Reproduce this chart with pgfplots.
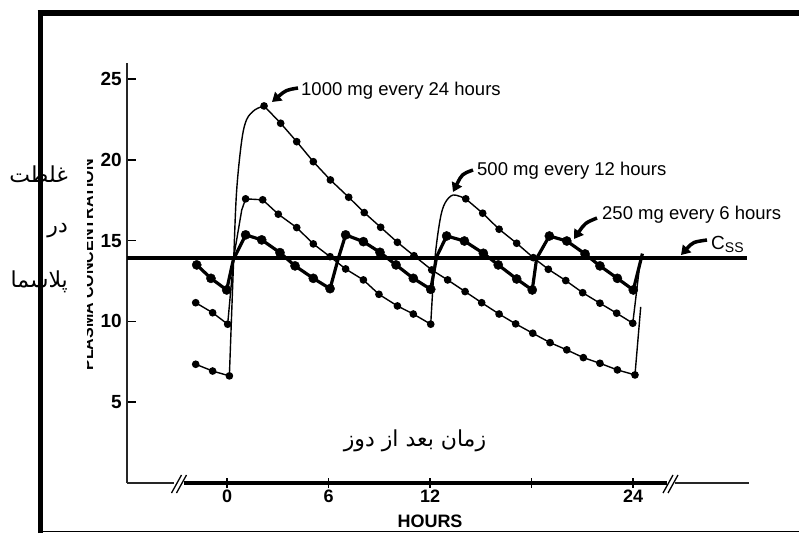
\documentclass[border=0pt]{standalone}
\usepackage{fontspec}
\setmainfont{Liberation Sans}
\newfontfamily\arabicfont[Script=Arabic]{DejaVu Sans}
\TeXXeTstate=1
\usepackage{pgfplots}
\pgfplotsset{compat=1.18}
\usetikzlibrary{arrows.meta}
\begin{document}
\begin{tikzpicture}
\begin{axis}[
  scale only axis, width=622pt, height=420pt,
  xmin=-5.91, xmax=30.85, ymin=0, ymax=26,
  axis x line=none, axis y line*=left,
  y axis line style={line width=1.3pt, black!85},
  ytick={5,10,15,20,25},
  tick align=inside, major tick length=9pt,
  tick style={line width=1.5pt, black},
  /pgf/number format/assume math mode=true,
  yticklabel style={font=\bfseries\fontsize{19}{19}\selectfont, inner sep=0pt, xshift=-5pt},
  clip=false,
  l1/.style={black, line width=1.4pt, mark=none},
  m1/.style={black, line width=1.4pt, mark=*, mark size=3.1pt, mark options={solid, fill=black}},
  l2/.style={black, line width=3.2pt, mark=none, line join=round},
  m2/.style={black, only marks, mark=*, mark size=4.6pt, mark options={solid, fill=black}},
]
\coordinate (BL) at (axis cs:-13.416,-3.096);
% steady state concentration
\addplot[black, line width=4pt] coordinates {(-5.91,13.93) (30.73,13.93)};
% 1000 mg every 24 hours
\addplot[m1] coordinates {(-1.85,7.35) (-0.85,6.93) (0.14,6.63)};
\addplot[l1, smooth, tension=0.55] coordinates {(0.14,6.63) (0.40,14.0) (0.57,18.1) (0.87,21.2) (1.16,22.5) (1.65,23.1) (2.19,23.34)};
\addplot[m1] coordinates {(2.19,23.34) (3.17,22.27) (4.12,21.13) (5.10,19.89) (6.11,18.76) (7.19,17.69) (8.11,16.74) (9.08,15.83) (10.07,14.90) (11.05,14.07) (12.10,13.19) (13.04,12.57) (14.07,11.85) (15.05,11.16) (16.08,10.46) (17.06,9.85) (18.07,9.27) (19.09,8.69) (20.08,8.24) (21.06,7.76) (22.04,7.41) (23.07,7.00) (24.11,6.69)};
\addplot[l1] coordinates {(24.11,6.69) (24.45,10.9)};
% 500 mg every 12 hours
\addplot[m1] coordinates {(-1.85,11.16) (-0.85,10.54) (0.04,9.83)};
\addplot[l1] coordinates {(0.04,9.83) (0.40,14.0) (0.87,16.9) (1.10,17.59)};
\addplot[m1] coordinates {(1.10,17.59) (2.11,17.53) (3.03,16.64) (4.12,15.81) (5.10,14.80) (6.09,14.01) (7.01,13.25) (8.06,12.57) (8.98,11.68) (10.07,10.96) (11.01,10.46) (12.04,9.83)};
\addplot[l1, smooth, tension=0.55] coordinates {(12.04,9.83) (12.28,13.8) (12.59,16.28) (12.88,17.32) (13.37,17.83) (14.11,17.59)};
\addplot[m1] coordinates {(14.11,17.59) (15.11,16.70) (16.08,15.71) (17.12,14.84) (18.10,13.95) (18.99,13.23) (20.02,12.53) (21.02,11.78) (22.04,11.13) (23.03,10.51) (23.98,9.89)};
\addplot[l1] coordinates {(23.98,9.89) (24.45,14.0)};
% 250 mg every 6 hours
\addplot[l2] coordinates {(-1.79,13.50) (-0.95,12.67) (-0.02,11.95) (0.37,13.81) (1.10,15.36) (2.05,15.05) (3.13,14.26) (4.02,13.44) (5.10,12.67) (6.09,12.03) (6.58,13.91) (7.01,15.36) (8.06,14.94) (9.04,14.28) (9.99,13.50) (11.01,12.67) (12.04,11.99) (12.39,14.01) (12.98,15.29) (14.03,14.98) (15.15,14.22) (16.03,13.50) (17.12,12.63) (18.04,11.95) (18.30,13.91) (19.05,15.29) (20.08,14.98) (21.16,14.18) (22.04,13.44) (23.07,12.67) (24.01,11.95) (24.55,14.2)};
\addplot[m2] coordinates {(-1.79,13.50) (-0.95,12.67) (-0.02,11.95) (1.10,15.36) (2.05,15.05) (3.13,14.26) (4.02,13.44) (5.10,12.67) (6.09,12.03) (7.01,15.36) (8.06,14.94) (9.04,14.28) (9.99,13.50) (11.01,12.67) (12.04,11.99) (12.98,15.29) (14.03,14.98) (15.15,14.22) (16.03,13.50) (17.12,12.63) (18.04,11.95) (19.05,15.29) (20.08,14.98) (21.16,14.18) (22.04,13.44) (23.07,12.67) (24.01,11.95)};
% x axis with breaks
\draw[line width=1.3pt, black!85] (axis cs:-5.91,0) -- (axis cs:-3.13,0);
\draw[line width=3.2pt] (axis cs:-2.55,0) -- (axis cs:26.03,0);
\draw[line width=1.3pt, black!85] (axis cs:26.5,0) -- (axis cs:30.85,0);
\pgfplotsinvokeforeach{0,6,12,18,24}{
  \draw[line width=1.8pt] ([yshift=-5pt]axis cs:#1,0) -- ([yshift=5pt]axis cs:#1,0);
}
\pgfplotsinvokeforeach{0,6,12,24}{
  \node[font=\bfseries\fontsize{18}{18}\selectfont, anchor=base] at ([yshift=-20pt]axis cs:#1,0) {#1};
}
\end{axis}
\begin{scope}[shift={(BL)}, x=1pt, y=1pt]
% break marks
\draw[line width=1.3pt] (171.5,40) -- (181.5,58);
\draw[line width=1.3pt] (176.5,40) -- (186.5,58);
\draw[line width=1.3pt] (663,40) -- (673,58);
\draw[line width=1.3pt] (668,40) -- (678,58);
% axis titles
\node[font=\bfseries\fontsize{18}{18}\selectfont, anchor=base] at (430,6) {HOURS};
\node[font=\bfseries\fontsize{16}{16}\selectfont, rotate=90, anchor=base] at (93,268) {PLASMA CONCENTRATION};
\fill[white] (60,140) rectangle (86.5,400);
% annotations
\node[font=\fontsize{18.5}{18.5}\selectfont, anchor=base west, inner sep=0pt] at (301,437) {1000 mg every 24 hours};
\node[font=\fontsize{18.5}{18.5}\selectfont, anchor=base west, inner sep=0pt] at (477,357) {500 mg every 12 hours};
\node[font=\fontsize{18.5}{18.5}\selectfont, anchor=base west, inner sep=0pt] at (602,313) {250 mg every 6 hours};
\node[font=\fontsize{19}{19}\selectfont, anchor=base west, inner sep=0pt] at (711,283) {C\raisebox{-3pt}{\fontsize{14}{14}\selectfont SS}};
\draw[line width=3.5pt, -{Triangle[length=9pt,width=11pt]}] (298,445) .. controls (286,443) .. (272,431);
\draw[line width=3.5pt, -{Triangle[length=9pt,width=11pt]}] (473,363) .. controls (462,359) .. (453,341);
\draw[line width=3.5pt, -{Triangle[length=9pt,width=11pt]}] (597,315) .. controls (585,310) .. (574,294);
\draw[line width=3.5pt, -{Triangle[length=9pt,width=11pt]}] (707,293) .. controls (693,291) .. (681,278);
% frame of the page
\draw[line width=5.5pt] (40.5,0) -- (40.5,522.5);
\draw[line width=6pt] (37.75,520) -- (799,520);
\draw[line width=1.3pt] (40,1.5) -- (799,1.5);
% Persian labels
\node[font=\arabicfont\fontsize{22}{22}\selectfont, anchor=east, inner sep=0pt] at (68,359) {\beginR غلظت\endR};
\node[font=\arabicfont\fontsize{22}{22}\selectfont, anchor=east, inner sep=0pt] at (68,302) {\beginR در\endR};
\node[font=\arabicfont\fontsize{22}{22}\selectfont, anchor=east, inner sep=0pt] at (68,251) {\beginR پلاسما\endR};
\node[font=\arabicfont\fontsize{22}{22}\selectfont, anchor=center, inner sep=0pt] at (415,92) {\beginR زمان بعد از دوز\endR};
\pgfresetboundingbox
\path[use as bounding box] (0,0) rectangle (799,533);
\end{scope}
\end{tikzpicture}
\end{document}
